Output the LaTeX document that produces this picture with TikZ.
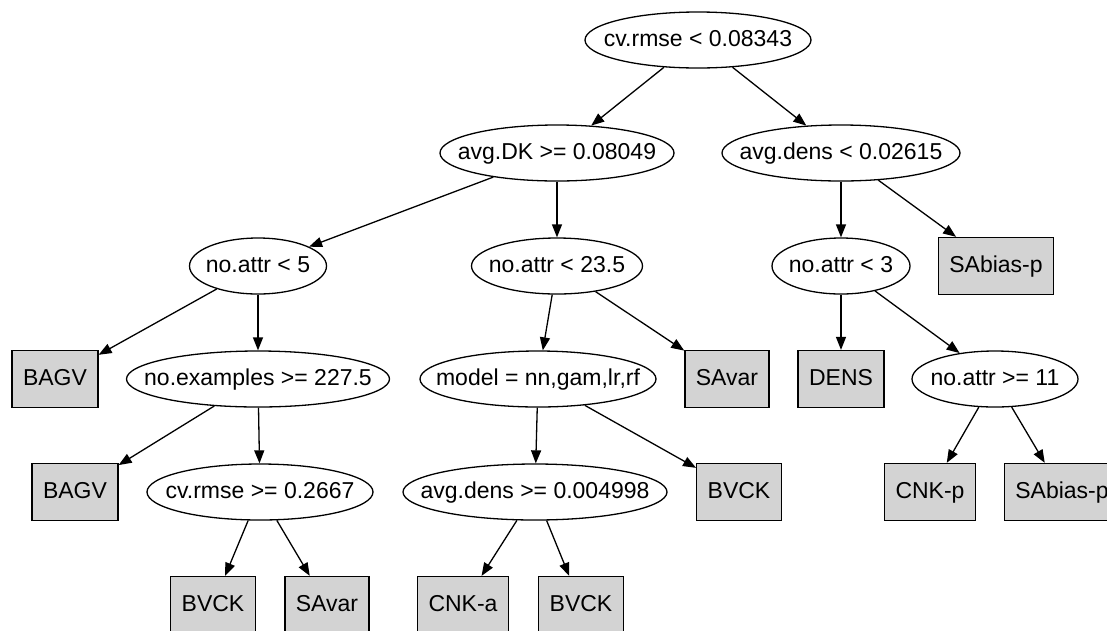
\documentclass[tikz,border=0pt]{standalone}
\usepackage{fontspec}
\setmainfont{Liberation Sans}
\usepackage{tikz}
\usetikzlibrary{shapes.geometric, arrows.meta}
\definecolor{leafgray}{HTML}{D3D3D3}

\begin{document}
\begin{tikzpicture}[x=1pt, y=-1pt, line width=1.3pt,
  every node/.style={font=\fontsize{23}{27}\selectfont, text height=16.5pt, text depth=4.5pt},
  test/.style={ellipse, draw, inner sep=0pt, minimum height=56,
    execute at begin node={\hbox to 0pt\bgroup\hss}, execute at end node={\hss\egroup}},
  leaf/.style={rectangle, draw, fill=leafgray, inner xsep=11pt, minimum height=57},
  edge/.style={-{Triangle[length=13pt,width=10pt]}}]

\clip (0,0) rectangle (1107,630);

% Splits
\node[test, minimum width=226] at (698,40) (rmseA) {cv.rmse < 0.08343};
\node[test, minimum width=234] at (557,153) (dkA) {avg.DK >= 0.08049};
\node[test, minimum width=238] at (841,153) (densA) {avg.dens < 0.02615};
\node[test, minimum width=137] at (258,266) (attrA) {no.attr < 5};
\node[test, minimum width=171] at (557,266) (attrB) {no.attr < 23.5};
\node[test, minimum width=138] at (841,266) (attrC) {no.attr < 3};
\node[test, minimum width=263] at (258,379) (exA) {no.examples >= 227.5};
\node[test, minimum width=236] at (538,379) (modelA) {model = nn,gam,lr,rf};
\node[test, minimum width=166] at (995,379) (attrD) {no.attr >= 11};
\node[test, minimum width=226] at (260,492) (rmseB) {cv.rmse >= 0.2667};
\node[test, minimum width=264] at (535,492) (densB) {avg.dens >= 0.004998};

% Leaves
\node[leaf] at (996,266) (sabiasA) {SAbias-p};
\node[leaf] at (55,379) (bagvA) {BAGV};
\node[leaf] at (727,379) (savarA) {SAvar};
\node[leaf] at (841,379) (dens) {DENS};
\node[leaf] at (75,492) (bagvB) {BAGV};
\node[leaf] at (739,492) (bvckA) {BVCK};
\node[leaf] at (930,492) (cnkp) {CNK-p};
\node[leaf] at (1062,492) (sabiasB) {SAbias-p};
\node[leaf] at (213,605) (bvckB) {BVCK};
\node[leaf] at (327,605) (savarB) {SAvar};
\node[leaf] at (463,605) (cnka) {CNK-a};
\node[leaf] at (581,605) (bvckC) {BVCK};

% Connections
\foreach \target in {dkA,densA} {
  \draw[edge] (rmseA) -- (\target);
}
\foreach \target in {attrA,attrB} {
  \draw[edge] (dkA) -- (\target);
}
\foreach \target in {attrC,sabiasA} {
  \draw[edge] (densA) -- (\target);
}
\foreach \target in {bagvA,exA} {
  \draw[edge] (attrA) -- (\target);
}
\foreach \target in {modelA,savarA} {
  \draw[edge] (attrB) -- (\target);
}
\foreach \target in {dens,attrD} {
  \draw[edge] (attrC) -- (\target);
}
\foreach \target in {bagvB,rmseB} {
  \draw[edge] (exA) -- (\target);
}
\foreach \target in {densB,bvckA} {
  \draw[edge] (modelA) -- (\target);
}
\foreach \target in {cnkp,sabiasB} {
  \draw[edge] (attrD) -- (\target);
}
\foreach \target in {bvckB,savarB} {
  \draw[edge] (rmseB) -- (\target);
}
\foreach \target in {cnka,bvckC} {
  \draw[edge] (densB) -- (\target);
}

\end{tikzpicture}
\end{document}
